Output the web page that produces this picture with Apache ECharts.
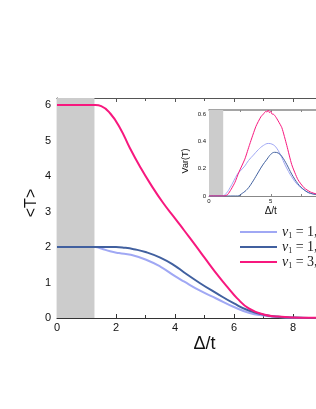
<!DOCTYPE html>
<html>
<head>
<meta charset="utf-8">
<script src="https://cdn.jsdelivr.net/npm/echarts@6/dist/echarts.min.js"></script>
<style>
html,body{margin:0;padding:0;background:#fff;}
#c{width:316px;height:409px;}
</style>
</head>
<body>
<div id="c"></div>
<script>
// ---- main panel data: <T> vs Δ/t ----
var mainLightX = [0, 1.3, 1.5, 1.8, 2.1, 2.5, 3.0, 3.5, 4.0, 4.3, 4.85, 5.4, 6.0, 6.5, 7.0, 7.5, 8.0, 9.0, 10];
var mainLightY = [2, 2, 1.96, 1.88, 1.83, 1.78, 1.65, 1.45, 1.18, 1.03, 0.77, 0.55, 0.31, 0.15, 0.07, 0.03, 0.01, 0, 0];
var mainDarkX = [0, 1.5, 2.0, 2.3, 2.6, 3.0, 3.5, 4.0, 4.3, 4.85, 5.4, 6.0, 6.5, 7.1, 7.6, 8.0, 9.0, 10];
var mainDarkY = [2, 2, 2.0, 1.98, 1.94, 1.86, 1.70, 1.47, 1.29, 0.98, 0.7, 0.41, 0.21, 0.08, 0.03, 0.015, 0, 0];
var mainPinkX = [0, 1.3, 1.5, 1.8, 2.14, 2.47, 2.81, 3.15, 3.6, 4.0, 4.3, 4.7, 5.0, 5.5, 5.8, 6.1, 6.5, 7.0, 7.5, 8.0, 9.0, 10];
var mainPinkY = [6, 6, 5.97, 5.77, 5.35, 4.79, 4.27, 3.80, 3.24, 2.81, 2.48, 2.04, 1.7, 1.15, 0.85, 0.56, 0.27, 0.1, 0.04, 0.015, 0.005, 0];

// ---- inset data: Var(T) vs Δ/t ----
var insetLightX = [0, 1.1, 1.4, 1.7, 2.0, 2.3, 2.6, 2.9, 3.2, 3.6, 4.0, 4.4, 4.8, 5.1, 5.4, 5.8, 6.2, 6.7, 7.2, 7.7, 8.2, 9.0, 10];
var insetLightY = [0, 0, 0.02, 0.06, 0.11, 0.16, 0.19, 0.22, 0.26, 0.30, 0.34, 0.37, 0.385, 0.38, 0.36, 0.30, 0.22, 0.14, 0.08, 0.045, 0.02, 0.01, 0];
var insetDarkX = [0, 2.3, 2.7, 3.1, 3.5, 3.9, 4.3, 4.7, 5.0, 5.3, 5.6, 5.9, 6.3, 6.7, 7.2, 7.7, 8.2, 9.0, 10];
var insetDarkY = [0, 0, 0.02, 0.05, 0.10, 0.16, 0.22, 0.27, 0.305, 0.32, 0.315, 0.29, 0.23, 0.16, 0.09, 0.045, 0.02, 0.008, 0];
var insetPinkX = [0, 1.2, 1.5, 1.8, 2.1, 2.4, 2.9, 3.3, 3.8, 4.2, 4.4, 4.6, 4.7, 4.8, 4.9, 5.0, 5.1, 5.2, 5.4, 5.6, 5.9, 6.3, 6.7, 7.2, 7.7, 8.2, 8.7, 9.5, 10];
var insetPinkY = [0, 0, 0.01, 0.05, 0.10, 0.17, 0.27, 0.38, 0.51, 0.58, 0.60, 0.62, 0.615, 0.63, 0.61, 0.62, 0.60, 0.60, 0.58, 0.55, 0.50, 0.37, 0.23, 0.12, 0.06, 0.03, 0.015, 0.005, 0];

var mainXTicks = [0, 2, 4, 6, 8, 10];
var mainYTicks = [0, 1, 2, 3, 4, 5, 6];
var insetXTickLabels = [0, 5, 10];
var insetYTickLabels = [0, 0.2, 0.4, 0.6];
var shadeMain = [0, 1.27];
var shadeInset = [0, 1.15];

var legendNames = ['light', 'dark', 'pink'];
var legendLabels = {
  light: '{i|ν}{s|1}{n| = 1, }{i|ν}{s|2}{n| = 0}',
  dark: '{i|ν}{s|1}{n| = 1, }{i|ν}{s|2}{n| = 1}',
  pink: '{i|ν}{s|1}{n| = 3, }{i|ν}{s|2}{n| = 3}'
};
var colors = { light: '#a0a8f4', dark: '#41609f', pink: '#f7187e' };

function zip(xs, ys) { return xs.map(function (x, i) { return [x, ys[i]]; }); }

var chart = echarts.init(document.getElementById('c'), null, { renderer: 'canvas' });
var axisCol = '#333';
var insetCol = '#888';

var option = {
  animation: false,
  backgroundColor: '#fff',
  grid: [
    { left: 57, top: 98, width: 295, height: 220, outerBoundsMode: 'none', containLabel: false },
    { left: 209, top: 110, width: 123.5, height: 86, outerBoundsMode: 'none', containLabel: false,
      backgroundColor: '#fff', show: true, borderWidth: 0 }
  ],
  legend: {
    data: legendNames,
    orient: 'vertical',
    left: 240,
    top: 225,
    padding: 0,
    icon: 'rect',
    itemWidth: 37,
    itemHeight: 2,
    itemGap: 0,
    formatter: function (n) { return legendLabels[n]; },
    textStyle: {
      padding: [0, 0, 0, 0],
      rich: {
        i: { fontFamily: 'Liberation Serif', fontStyle: 'italic', fontSize: 14, color: '#222', height: 16 },
        s: { fontFamily: 'Liberation Serif', fontSize: 8, color: '#222', verticalAlign: 'bottom', padding: [6, 0, 0, 0] },
        n: { fontFamily: 'Liberation Serif', fontSize: 14, color: '#222', height: 16 }
      }
    }
  },
  xAxis: [
    {
      gridIndex: 0, type: 'value', min: 0, max: 10, interval: 2,
      name: 'Δ/t', nameLocation: 'middle', nameGap: 17, nameMoveOverlap: false,
      nameTextStyle: { fontFamily: 'Liberation Sans', fontSize: 18, color: '#111' },
      axisLine: { show: true, lineStyle: { color: axisCol, width: 1.2 } },
      axisTick: { show: true, inside: true, length: 4, lineStyle: { color: axisCol } },
      minorTick: { show: true, splitNumber: 2, length: 3, lineStyle: { color: axisCol } },
      axisLabel: { fontFamily: 'Liberation Sans', fontSize: 11, color: '#111', margin: 4,
        formatter: function (v) { return mainXTicks.indexOf(v) >= 0 ? String(v) : ''; } },
      splitLine: { show: false }
    },
    {
      gridIndex: 0, type: 'value', min: 0, max: 10, interval: 2, position: 'top',
      axisLine: { show: true, lineStyle: { color: '#555', width: 1.2 } },
      axisTick: { show: true, inside: true, length: 4, lineStyle: { color: '#555' } },
      minorTick: { show: true, splitNumber: 2, length: 3, lineStyle: { color: '#555' } },
      axisLabel: { show: false }, splitLine: { show: false }
    },
    {
      gridIndex: 1, type: 'value', min: 0, max: 10, interval: 2.5,
      name: 'Δ/t', nameLocation: 'middle', nameGap: 10, nameMoveOverlap: false,
      nameTextStyle: { fontFamily: 'Liberation Sans', fontSize: 10, color: '#111' },
      axisLine: { show: true, lineStyle: { color: insetCol, width: 1 } },
      axisTick: { show: true, inside: true, length: 2, lineStyle: { color: insetCol } },
      axisLabel: { fontFamily: 'Liberation Sans', fontSize: 6, color: '#111', margin: 2,
        formatter: function (v) { return insetXTickLabels.indexOf(v) >= 0 ? String(v) : ''; } },
      splitLine: { show: false }
    },
    {
      gridIndex: 1, type: 'value', min: 0, max: 10, interval: 2.5, position: 'top',
      axisLine: { show: true, lineStyle: { color: insetCol, width: 1.5 } },
      axisTick: { show: true, inside: true, length: 2, lineStyle: { color: insetCol } },
      axisLabel: { show: false }, splitLine: { show: false }
    }
  ],
  yAxis: [
    {
      gridIndex: 0, type: 'value', min: 0, max: 6.2, interval: 1,
      name: '<T>', nameLocation: 'middle', nameGap: 17, nameMoveOverlap: false,
      nameTextStyle: { fontFamily: 'Liberation Sans', fontSize: 16, color: '#111', padding: [0, 0, 0, 10] },
      axisLine: { show: true, lineStyle: { color: axisCol, width: 1.2 } },
      axisTick: { show: true, inside: true, length: 4, lineStyle: { color: axisCol } },
      axisLabel: { fontFamily: 'Liberation Sans', fontSize: 11, color: '#111', margin: 6,
        formatter: function (v) { return mainYTicks.indexOf(v) >= 0 ? String(v) : ''; } },
      splitLine: { show: false }
    },
    {
      gridIndex: 1, type: 'value', min: 0, max: 0.63, interval: 0.2,
      name: 'Var(T)', nameLocation: 'middle', nameGap: 19, nameMoveOverlap: false,
      nameTextStyle: { fontFamily: 'Liberation Sans', fontSize: 9, color: '#111', padding: [0, 16, 0, 0] },
      axisLine: { show: true, lineStyle: { color: insetCol, width: 1 } },
      axisTick: { show: true, inside: true, length: 2, lineStyle: { color: insetCol } },
      axisLabel: { fontFamily: 'Liberation Sans', fontSize: 6, color: '#111', margin: 3,
        formatter: function (v) {
          for (var k = 0; k < insetYTickLabels.length; k++) { if (Math.abs(insetYTickLabels[k] - v) < 1e-6) return String(insetYTickLabels[k]); }
          return '';
        } },
      splitLine: { show: false }
    }
  ],
  series: [
    { name: 'shadeMain', type: 'line', xAxisIndex: 0, yAxisIndex: 0, data: [], silent: true,
      markArea: { silent: true, itemStyle: { color: '#cccccc' }, data: [[{ xAxis: shadeMain[0] }, { xAxis: shadeMain[1] }]] } },
    { name: 'light', type: 'line', xAxisIndex: 0, yAxisIndex: 0, data: zip(mainLightX, mainLightY), smooth: 0.5,
      symbol: 'none', color: colors.light, lineStyle: { width: 2, color: colors.light }, z: 3 },
    { name: 'dark', type: 'line', xAxisIndex: 0, yAxisIndex: 0, data: zip(mainDarkX, mainDarkY), smooth: 0.5,
      symbol: 'none', color: colors.dark, lineStyle: { width: 2, color: colors.dark }, z: 4 },
    { name: 'pink', type: 'line', xAxisIndex: 0, yAxisIndex: 0, data: zip(mainPinkX, mainPinkY), smooth: 0.5,
      symbol: 'none', color: colors.pink, lineStyle: { width: 2, color: colors.pink }, z: 5 },
    { name: 'shadeInset', type: 'line', xAxisIndex: 2, yAxisIndex: 1, data: [], silent: true, z: 6,
      markArea: { silent: true, itemStyle: { color: '#cccccc' }, data: [[{ xAxis: shadeInset[0] }, { xAxis: shadeInset[1] }]] } },
    { name: 'insetLight', type: 'line', xAxisIndex: 2, yAxisIndex: 1, data: zip(insetLightX, insetLightY), smooth: 0.4,
      symbol: 'none', lineStyle: { width: 1, color: colors.light }, z: 7 },
    { name: 'insetDark', type: 'line', xAxisIndex: 2, yAxisIndex: 1, data: zip(insetDarkX, insetDarkY), smooth: 0.4,
      symbol: 'none', lineStyle: { width: 1, color: colors.dark }, z: 8 },
    { name: 'insetPink', type: 'line', xAxisIndex: 2, yAxisIndex: 1, data: zip(insetPinkX, insetPinkY), smooth: 0.2,
      symbol: 'none', lineStyle: { width: 1, color: colors.pink }, z: 9 }
  ]
};
chart.setOption(option);
</script>
</body>
</html>
